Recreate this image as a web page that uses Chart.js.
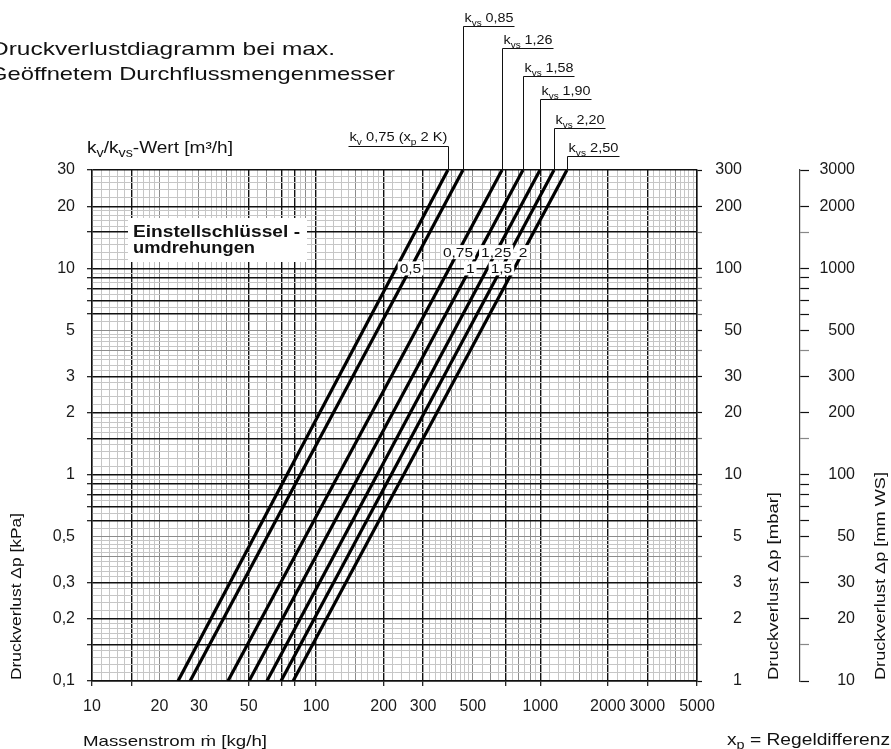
<!DOCTYPE html>
<html><head><meta charset="utf-8">
<script src="https://cdn.jsdelivr.net/npm/chart.js@4/dist/chart.umd.min.js"></script>
<style>html,body{margin:0;padding:0;background:#fff;overflow:hidden}#wrap{width:891px;height:749px;position:relative;background:#fff}</style>
</head><body><div id="wrap"><canvas id="c" width="891" height="749"></canvas></div>
<script>
// ---------------- data ----------------
const seriesNames = ['k_v 0,75 (x_p 2 K)', 'k_vs 0,85', 'k_vs 1,26', 'k_vs 1,58', 'k_vs 1,90', 'k_vs 2,20', 'k_vs 2,50'];
const lineDp = [0.1, 30];                                   // kPa at the two ends of each line
const flowLow = [24.2, 27.4, 40.4, 50.2, 60.3, 69.7, 78.9];   // kg/h at 0.1 kPa
const flowHigh = [387, 452, 675, 837, 997, 1151, 1315];       // kg/h at 30 kPa
const settingLabels = [null, '0,5', '0,75', '1', '1,25', '1,5', '2'];
const settingAnchorDp = [null, 10, 12, 10, 12, 10, 12];
const xTickValues = [10, 20, 30, 50, 100, 200, 300, 500, 1000, 2000, 3000, 5000];
const xTickLabels = ['10', '20', '30', '50', '100', '200', '300', '500', '1000', '2000', '3000', '5000'];
const yTickValues = [0.1, 0.2, 0.3, 0.5, 1, 2, 3, 5, 10, 20, 30];
const yTickLabels = ['0,1', '0,2', '0,3', '0,5', '1', '2', '3', '5', '10', '20', '30'];
const mbarTickValues = [1, 2, 3, 5, 10, 20, 30, 50, 100, 200, 300];
const mbarTickLabels = ['1', '2', '3', '5', '10', '20', '30', '50', '100', '200', '300'];
const mmwsTickValues = [10, 20, 30, 50, 100, 200, 300, 500, 1000, 2000, 3000];
const mmwsTickLabels = ['10', '20', '30', '50', '100', '200', '300', '500', '1000', '2000', '3000'];
const xDarkGrid = [10, 15, 50, 70, 80, 100, 200, 300, 700, 1000, 2000, 3000, 5000];
const yDarkGrid = [0.1, 0.15, 0.2, 0.3, 0.6, 0.7, 0.8, 0.9, 1, 1.5, 2, 3, 6, 7, 8, 9, 10, 15, 20, 30];

// ---------------- helpers ----------------
const FONT = "'Liberation Sans', Arial, Helvetica, sans-serif";
function near(a, b) { return Math.abs(a - b) <= 1e-6 * Math.max(Math.abs(a), Math.abs(b)); }
function idxOf(v, arr) { for (let i = 0; i < arr.length; i++) if (near(v, arr[i])) return i; return -1; }
function labelFor(v, vals, labs) { const i = idxOf(v, vals); return i >= 0 ? labs[i] : ''; }
function mantissa(v) { const e = Math.floor(Math.log10(v) + 1e-9); return v / Math.pow(10, e); }
function denseLogValues(min, max, coarse) {
  const out = [];
  for (let e = Math.floor(Math.log10(min) + 1e-9); e <= Math.ceil(Math.log10(max)); e++) {
    const d = Math.pow(10, e);
    let ms = [];
    if (coarse) { ms = [1, 1.5, 2, 3, 4, 5, 6, 7, 8, 9]; }
    else {
      for (let k = 10; k < 20; k++) ms.push(k / 10);
      for (let k = 10; k < 25; k++) ms.push(k / 5);
      for (let k = 10; k < 20; k++) ms.push(k / 2);
    }
    for (const m of ms) {
      const v = parseFloat((m * d).toPrecision(10));
      if (v >= min * (1 - 1e-9) && v <= max * (1 + 1e-9)) out.push(v);
    }
  }
  return out;
}
function gridLevel(v, dark) {
  if (idxOf(v, dark) >= 0) return 2;
  const m = mantissa(v);
  if (Math.abs(m - Math.round(m)) < 1e-6 || near(m, 1.5)) return 1;
  return 0;
}
const GRID_COL = ['#c6c6c6', '#8c8c8c', '#111111'];
const GRID_W = [1, 1, 1.4];
function gridOpts(dark) {
  return {
    color: c => GRID_COL[c.tick ? gridLevel(c.tick.value, dark) : 0],
    lineWidth: c => GRID_W[c.tick ? gridLevel(c.tick.value, dark) : 0],
    tickColor: c => (c.tick && gridLevel(c.tick.value, dark) === 2) ? '#111' : 'rgba(0,0,0,0)',
    tickWidth: 1.2,
    tickLength: 5,
    drawTicks: true
  };
}
function spacer(weight, width) {
  return {
    type: 'linear', position: 'right', weight, display: true,
    grid: { display: false, drawTicks: false }, ticks: { display: false }, border: { display: false },
    afterFit: s => { s.width = width; }
  };
}
function parseSub(str) {
  return str.split(/_([a-z]+)/).map((t, i) => ({ t, sub: i % 2 === 1 })).filter(p => p.t.length);
}
function drawRich(ctx, parts, x, y, o) {
  const base = o.size;
  const segs = parts.map(p => ({ t: p.t, size: p.sub ? Math.round(base * 0.72) : base, bold: !!(o.bold || p.bold), dy: p.sub ? base * 0.28 : 0 }));
  let nat = 0;
  segs.forEach(s => { ctx.font = (s.bold ? 'bold ' : '') + s.size + 'px ' + FONT; s.w = ctx.measureText(s.t).width; nat += s.w; });
  const sx = o.width ? o.width / nat : (o.sx || 1);
  ctx.save();
  ctx.translate(x, y);
  if (o.rot) ctx.rotate(o.rot);
  ctx.scale(sx, 1);
  let cx = o.align === 'right' ? -nat : (o.align === 'center' ? -nat / 2 : 0);
  ctx.fillStyle = o.color || '#111';
  ctx.textBaseline = 'alphabetic';
  ctx.textAlign = 'left';
  segs.forEach(s => { ctx.font = (s.bold ? 'bold ' : '') + s.size + 'px ' + FONT; ctx.fillText(s.t, cx, s.dy); cx += s.w; });
  ctx.restore();
  return nat * sx;
}

// ---------------- annotation plugin ----------------
const annotations = {
  id: 'annotations',
  afterDatasetsDraw(chart) {
    const { ctx, chartArea: ca, scales } = chart;
    const ys = scales.y;
    ctx.save();
    // "Einstellschlüssel - umdrehungen" box
    ctx.fillStyle = '#fff';
    ctx.fillRect(128, 218, 179, 44);
    drawRich(ctx, [{ t: 'Einstellschlüssel -' }], 133, 237, { size: 16.5, bold: true, width: 167 });
    drawRich(ctx, [{ t: 'umdrehungen' }], 133, 253, { size: 16.5, bold: true, width: 122 });

    // setting labels on the lines
    settingLabels.forEach((lab, i) => {
      if (!lab) return;
      const meta = chart.getDatasetMeta(i);
      const p0 = meta.data[0], p1 = meta.data[1];
      const py = ys.getPixelForValue(settingAnchorDp[i]);
      const px = p0.x + (p1.x - p0.x) * (py - p0.y) / (p1.y - p0.y);
      ctx.font = '13.5px ' + FONT;
      const w = ctx.measureText(lab).width * 1.15;
      ctx.fillStyle = '#fff';
      ctx.fillRect(px - w / 2 - 2, py - 7, w + 4, 14);
      drawRich(ctx, [{ t: lab }], px, py + 5, { size: 13.5, sx: 1.15, align: 'center' });
    });

    // leaders + kv/kvs labels at the top
    const leaderY = [146, 26, 48, 76, 99, 128, 156];
    const textW = [100, 51, 51, 51, 51, 51, 52];
    ctx.strokeStyle = '#111';
    ctx.lineWidth = 1;
    seriesNames.forEach((n, i) => {
      const meta = chart.getDatasetMeta(i);
      const tx = Math.round(meta.data[1].x) + 0.5;
      const ly = leaderY[i] + 0.5;
      ctx.beginPath();
      ctx.moveTo(tx, ly); ctx.lineTo(tx, ca.top);
      if (i === 0) { ctx.moveTo(tx - textW[i], ly); ctx.lineTo(tx, ly); }
      else { ctx.moveTo(tx, ly); ctx.lineTo(tx + textW[i], ly); }
      ctx.stroke();
      if (i === 0) drawRich(ctx, parseSub(n), tx - 1, leaderY[i] - 5, { size: 13, width: textW[i] - 2, align: 'right' });
      else drawRich(ctx, parseSub(n), tx + 1, leaderY[i] - 4, { size: 13, width: textW[i] - 2 });
    });
    ctx.restore();
  },
  afterDraw(chart) {
    const { ctx } = chart;
    ctx.save();
    drawRich(ctx, [{ t: 'Druckverlustdiagramm bei max.' }], -9, 55, { size: 18.5, width: 344 });
    drawRich(ctx, [{ t: 'Geöffnetem Durchflussmengenmesser' }], -11, 80, { size: 18.5, width: 406 });
    drawRich(ctx, parseSub('k_v/k_vs-Wert [m³/h]'), 87, 153, { size: 16, width: 146 });
    drawRich(ctx, [{ t: 'Massenstrom ṁ [kg/h]' }], 83, 746, { size: 15, width: 184 });
    drawRich(ctx, parseSub('x_p = Regeldifferenz'), 727, 745, { size: 16, width: 163 });
    drawRich(ctx, [{ t: 'Druckverlust Δp [kPa]' }], 21, 680, { size: 15.5, width: 167, rot: -Math.PI / 2 });
    drawRich(ctx, [{ t: 'Druckverlust Δp [mbar]' }], 778, 680, { size: 15.5, width: 188, rot: -Math.PI / 2 });
    drawRich(ctx, [{ t: 'Druckverlust Δp [mm WS]' }], 885, 680, { size: 15.5, width: 208, rot: -Math.PI / 2 });
    ctx.restore();
  }
};

// ---------------- chart ----------------
const xGrid = denseLogValues(10, 5000, false);
const yGrid = denseLogValues(0.1, 30, false);
const mbarMarks = denseLogValues(1, 300, true);
const mmwsMarks = denseLogValues(10, 3000, true);
const tickFont = { family: FONT, size: 16 };

new Chart(document.getElementById('c'), {
  type: 'line',
  data: {
    datasets: seriesNames.map((n, i) => ({
      label: n,
      data: [{ x: flowLow[i], y: lineDp[0] }, { x: flowHigh[i], y: lineDp[1] }],
      borderColor: '#000', backgroundColor: '#000', borderWidth: 3.2,
      pointRadius: 0, fill: false, tension: 0, xAxisID: 'x', yAxisID: 'y'
    }))
  },
  options: {
    responsive: false, animation: false, devicePixelRatio: 1,
    layout: { padding: { top: 170, left: 0, right: 0, bottom: 0 } },
    plugins: { legend: { display: false }, tooltip: { enabled: false }, title: { display: false } },
    scales: {
      x: {
        type: 'logarithmic', position: 'bottom', min: 10, max: 5000,
        afterBuildTicks: s => { s.ticks = xGrid.map(v => ({ value: v })); },
        afterFit: s => { s.height = 68; },
        ticks: { autoSkip: false, maxRotation: 0, minRotation: 0, padding: 11, color: '#1a1a1a', font: tickFont,
                 callback: v => labelFor(v, xTickValues, xTickLabels) },
        grid: gridOpts(xDarkGrid),
        border: { display: true, color: '#111', width: 1.4 }
      },
      y: {
        type: 'logarithmic', position: 'left', min: 0.1, max: 30,
        afterBuildTicks: s => { s.ticks = yGrid.map(v => ({ value: v })); },
        afterFit: s => { s.width = 92; },
        ticks: { autoSkip: false, padding: 12, color: '#1a1a1a', font: tickFont,
                 callback: v => labelFor(v, yTickValues, yTickLabels) },
        grid: gridOpts(yDarkGrid),
        border: { display: true, color: '#111', width: 1.4 }
      },
      y2: {
        type: 'logarithmic', position: 'right', min: 1, max: 300, weight: 0,
        afterBuildTicks: s => { s.ticks = mbarMarks.map(v => ({ value: v })); },
        afterFit: s => { s.width = 45; },
        ticks: { autoSkip: false, padding: 13, crossAlign: 'far', color: '#1a1a1a', font: tickFont,
                 callback: v => labelFor(v, mbarTickValues, mbarTickLabels) },
        grid: { drawOnChartArea: false, drawTicks: true, tickLength: 5, tickWidth: 1.2,
                tickColor: c => (c.tick && idxOf(c.tick.value, mbarTickValues) >= 0) ? '#111' : '#777' },
        border: { display: true, color: '#111', width: 1.4 }
      },
      gap1: spacer(1, 58),
      y3: {
        type: 'logarithmic', position: 'right', min: 10, max: 3000, weight: 2,
        afterBuildTicks: s => { s.ticks = mmwsMarks.map(v => ({ value: v })); },
        afterFit: s => { s.width = 55; },
        ticks: { autoSkip: false, padding: 10, crossAlign: 'far', color: '#1a1a1a', font: tickFont,
                 callback: v => labelFor(v, mmwsTickValues, mmwsTickLabels) },
        grid: { drawOnChartArea: false, drawTicks: true, tickLength: 9, tickWidth: 1.2,
                tickColor: c => (c.tick && (idxOf(c.tick.value, mmwsTickValues) >= 0 || mantissa(c.tick.value) > 5.5)) ? '#111' : '#888' },
        border: { display: true, color: '#444', width: 1.2 }
      },
      gap2: spacer(3, 36)
    }
  },
  plugins: [annotations]
});
</script>
</body></html>
